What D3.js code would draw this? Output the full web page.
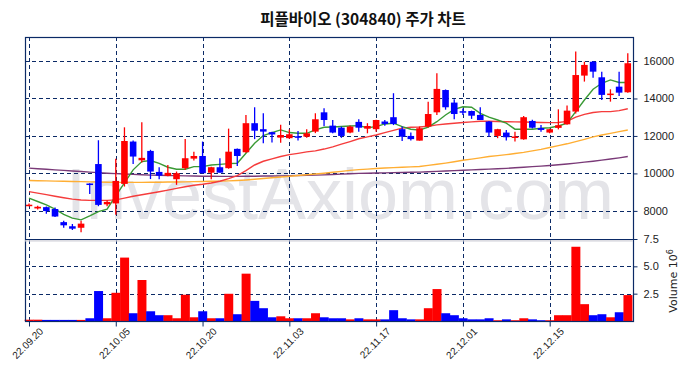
<!DOCTYPE html>
<html>
<head>
<meta charset="utf-8">
<script src="https://cdn.jsdelivr.net/npm/d3@7"></script>
<style>
  body { margin: 0; background: #fff; }
  svg { display: block; font-family: "DejaVu Sans", sans-serif; }
</style>
</head>
<body>
<div id="chart"></div>
<script>
// trading days (yy.mm.dd)
var dates = ["22.09.20","22.09.21","22.09.22","22.09.23","22.09.26","22.09.27","22.09.28","22.09.29","22.09.30","22.10.04",
  "22.10.05","22.10.06","22.10.07","22.10.11","22.10.12","22.10.13","22.10.14","22.10.17","22.10.18","22.10.19",
  "22.10.20","22.10.21","22.10.24","22.10.25","22.10.26","22.10.27","22.10.28","22.10.31","22.11.01","22.11.02",
  "22.11.03","22.11.04","22.11.07","22.11.08","22.11.09","22.11.10","22.11.11","22.11.14","22.11.15","22.11.16",
  "22.11.17","22.11.18","22.11.21","22.11.22","22.11.23","22.11.24","22.11.25","22.11.28","22.11.29","22.11.30",
  "22.12.01","22.12.02","22.12.05","22.12.06","22.12.07","22.12.08","22.12.09","22.12.12","22.12.13","22.12.14",
  "22.12.15","22.12.16","22.12.19","22.12.20","22.12.21","22.12.22","22.12.23","22.12.26","22.12.27","22.12.28"];
var open = [8300,8130,8200,8100,7400,7180,7100,9460,10500,8350,
  8400,9440,11700,10700,11200,10080,9870,9690,10280,10790,
  10930,10040,10330,10280,11310,11130,12680,12360,12200,11910,
  11880,11980,11960,12230,13260,12550,12440,12180,12750,12390,
  12360,12770,13000,12360,12000,11750,12500,13260,14450,13780,
  13320,13330,13120,12770,12000,12180,11940,11820,12800,12420,
  12180,12430,12620,13300,15220,15960,15130,14220,14630,14330];
var high = [8400,8280,8230,8180,7480,7300,7470,9470,11770,8550,
  10780,12460,11750,12730,11260,10330,10450,10100,11830,11150,
  11700,10350,10810,12390,11330,13120,13530,13210,12220,12600,
  12350,12270,12360,13210,13480,12850,12500,12560,12890,12680,
  12870,12850,14280,12500,12180,12500,13830,15340,14480,13960,
  13460,13350,13530,12800,12380,12320,12230,13060,12870,12590,
  12380,13420,13620,16500,15960,16000,15430,14490,15430,16410];
var low = [8250,8080,7850,7680,7100,6980,6860,8900,8250,8250,
  7790,9300,10500,10580,9700,9690,9850,9390,10190,10690,
  10000,9690,10040,10250,10400,11100,11830,11610,11650,11640,
  11850,11750,11900,12150,12530,12150,11900,12150,12230,12140,
  12230,12550,12580,11730,11750,11750,12450,13120,13400,12890,
  13120,12910,12850,11960,11880,11750,11700,11800,12400,12230,
  12150,12350,12600,13200,14900,15110,13920,13830,14130,14300];
var close = [8330,8220,7990,7700,7230,7050,7320,9420,8320,8480,
  9600,11730,10900,10830,10100,9880,10030,10010,10810,10930,
  10010,10330,10040,11160,10930,12680,12280,12230,12080,12050,
  12090,11940,12140,12890,12850,12180,12000,12500,12440,12530,
  12850,12640,12640,11960,11830,12410,13170,14510,13530,13170,
  13280,13080,12850,12180,12360,11930,11970,13000,12440,12320,
  12360,12570,13350,15250,15790,15430,14190,14260,14310,15880];
// volume, millions of shares
var volume = [0.12,0.12,0.1,0.1,0.1,0.1,0.1,0.25,2.74,0.25,
  2.58,5.8,0.71,3.75,0.89,0.53,0.53,0.25,2.4,0.34,
  0.89,0.25,0.25,2.49,0.62,4.33,1.84,1.17,0.34,0.43,
  0.25,0.25,0.25,0.71,0.34,0.25,0.25,0.15,0.25,0.15,
  0.15,0.15,0.99,0.25,0.15,0.15,1.17,2.92,0.71,0.53,
  0.25,0.15,0.15,0.25,0.07,0.15,0.07,0.25,0.15,0.07,
  0.07,0.53,0.53,6.79,1.54,0.53,0.62,0.34,0.8,2.37];
// moving averages
var ma5 = [8680,8500,8320,8090,7820,7610,7520,7730,7960,8090,
  8800,9500,10190,10630,10690,10540,10330,10220,10220,10360,
  10360,10450,10480,10520,10540,11080,11610,12020,12180,12320,
  12180,12140,12140,12320,12460,12480,12500,12530,12550,12440,
  12500,12640,12680,12500,12360,12310,12470,12760,13120,13420,
  13560,13530,13210,13000,12850,12680,12360,12360,12360,12410,
  12440,12530,12680,13300,13920,14490,14810,14990,14850,14850];
var ma20 = [9030,8950,8870,8780,8700,8630,8580,8560,8560,8560,
  8590,8680,8780,8860,8940,9020,9110,9200,9290,9370,
  9420,9490,9580,9720,9880,10150,10450,10650,10780,10900,
  11000,11070,11150,11200,11300,11420,11560,11700,11850,11950,
  12050,12180,12300,12420,12460,12480,12520,12590,12640,12680,
  12720,12750,12780,12780,12770,12760,12750,12740,12730,12720,
  12710,12720,12780,13000,13150,13250,13300,13300,13350,13450];
var ma60 = [9620,9610,9600,9590,9580,9570,9560,9550,9540,9530,
  9520,9520,9520,9520,9530,9530,9540,9540,9550,9560,
  9570,9580,9590,9600,9620,9650,9690,9730,9770,9810,
  9850,9890,9930,9970,10010,10060,10110,10160,10200,10230,
  10260,10290,10310,10330,10350,10370,10430,10490,10550,10620,
  10700,10760,10830,10900,10950,11000,11060,11120,11200,11280,
  11380,11480,11580,11700,11820,11950,12050,12140,12230,12320];
var ma120 = [10280,10250,10220,10190,10160,10130,10100,10070,10040,10010,
  9990,9970,9950,9930,9910,9900,9890,9880,9870,9860,
  9850,9850,9840,9840,9840,9850,9850,9860,9860,9870,
  9880,9890,9900,9910,9920,9940,9960,9980,10000,10010,
  10020,10030,10040,10050,10060,10070,10090,10110,10130,10150,
  10170,10190,10210,10230,10250,10270,10300,10330,10360,10390,
  10420,10460,10500,10550,10600,10650,10710,10770,10830,10900];
var priceTicks = [8000, 10000, 12000, 14000, 16000];
var volTicks = [2.5, 5.0, 7.5];

var W = 690, H = 378;
var L = 25, R = 633, T = 37, MID = 239, B = 321;
var gridColor = "#0b2a66";

var svg = d3.select("#chart").append("svg")
  .attr("width", W).attr("height", H);

var x = d3.scaleLinear().domain([-0.46, 69.6]).range([L, R]);
var y = d3.scaleLinear().domain([6500, 17280]).range([MID, T]);
var yv = d3.scaleLinear().domain([0, 7.5]).range([B, MID]);
var step = x(1) - x(0);

// watermark
svg.append("text")
  .attr("x", 66).attr("y", 219)
  .attr("textLength", 548)
  .attr("lengthAdjust", "spacingAndGlyphs")
  .style("font-family", "'Liberation Sans', Arial, sans-serif")
  .style("font-size", "72px")
  .style("fill", "#e4e4e8")
  .text("InvestAxiom.com");

// grid
var grid = svg.append("g").attr("stroke", gridColor).attr("stroke-width", 1).attr("stroke-dasharray", "4,3");
grid.selectAll(".hp").data(priceTicks).join("line")
  .attr("x1", L).attr("x2", R)
  .attr("y1", function (d) { return Math.round(y(d)) + 0.5; })
  .attr("y2", function (d) { return Math.round(y(d)) + 0.5; });
grid.selectAll(".hv").data(volTicks.slice(0, 2)).join("line")
  .attr("x1", L).attr("x2", R)
  .attr("y1", function (d) { return Math.round(yv(d)) + 0.5; })
  .attr("y2", function (d) { return Math.round(yv(d)) + 0.5; });
var tickIdx = d3.range(0, dates.length, 10);
grid.selectAll(".vx").data(tickIdx).join("line")
  .attr("x1", function (d) { return Math.round(x(d)) + 0.5; })
  .attr("x2", function (d) { return Math.round(x(d)) + 0.5; })
  .attr("y1", T).attr("y2", B);

// moving averages
var maLines = [
  { vals: ma120, color: "#7a3a78" },
  { vals: ma60, color: "#ffae33" },
  { vals: ma20, color: "#f53c3c" },
  { vals: ma5, color: "#3a9a35" }
];
var line = d3.line()
  .x(function (d, i) { return x(i); })
  .y(function (d) { return y(d); });
svg.append("g").selectAll("path").data(maLines).join("path")
  .attr("d", function (d) { return line(d.vals); })
  .attr("fill", "none")
  .attr("stroke", function (d) { return d.color; })
  .attr("stroke-width", 1.4);

// candles
var idx = d3.range(dates.length);
var col = function (i) { return close[i] >= open[i] ? "#ff0000" : "#0000ff"; };
var candles = svg.append("g");
candles.selectAll("line").data(idx).join("line")
  .attr("x1", function (i) { return x(i); })
  .attr("x2", function (i) { return x(i); })
  .attr("y1", function (i) { return y(high[i]); })
  .attr("y2", function (i) { return y(low[i]); })
  .attr("stroke", col).attr("stroke-width", 1.3);
candles.selectAll("rect").data(idx).join("rect")
  .attr("x", function (i) { return x(i) - step * 0.38; })
  .attr("width", step * 0.76)
  .attr("y", function (i) { return y(Math.max(open[i], close[i])); })
  .attr("height", function (i) { return Math.max(1.5, Math.abs(y(open[i]) - y(close[i]))); })
  .attr("fill", col);

// volume bars
svg.append("g").selectAll("rect").data(idx).join("rect")
  .attr("x", function (i) { return x(i) - step / 2; })
  .attr("width", step + 0.3)
  .attr("y", function (i) { return yv(volume[i]); })
  .attr("height", function (i) { return B - yv(volume[i]); })
  .attr("fill", col);

// frame
var frame = svg.append("g").attr("stroke", gridColor).attr("fill", "none");
frame.append("rect").attr("x", L + 0.5).attr("y", T + 0.5).attr("width", R - L).attr("height", B - T).attr("stroke-width", 1.2);
frame.append("line").attr("x1", L).attr("x2", R).attr("y1", MID + 0.5).attr("y2", MID + 0.5).attr("stroke-width", 1.2);
svg.append("line").attr("x1", L).attr("x2", R).attr("y1", MID + 1.8).attr("y2", MID + 1.8)
  .attr("stroke", "#d0d0d8").attr("stroke-width", 1.2);

// right axes
var axP = svg.append("g").attr("transform", "translate(" + (R + 0.5) + ",0)")
  .call(d3.axisRight(y).tickValues(priceTicks).tickSize(4).tickPadding(6).tickFormat(d3.format("d")));
var axV = svg.append("g").attr("transform", "translate(" + (R + 0.5) + ",0)")
  .call(d3.axisRight(yv).tickValues(volTicks).tickSize(4).tickPadding(6).tickFormat(d3.format(".1f")));
[axP, axV].forEach(function (a) {
  a.select(".domain").remove();
  a.selectAll("line").attr("stroke", gridColor);
  a.selectAll("text").style("font-size", "11px").attr("fill", "#222");
});

// bottom axis
var axX = svg.append("g").attr("transform", "translate(0," + (B + 0.5) + ")")
  .call(d3.axisBottom(x).tickValues(tickIdx).tickSize(5).tickFormat(function (d) { return dates[d]; }));
axX.select(".domain").remove();
axX.selectAll("line").attr("stroke", gridColor);
axX.selectAll("text")
  .style("font-size", "10px").attr("fill", "#222")
  .style("text-anchor", "end")
  .attr("dy", "0.35em")
  .attr("transform", "translate(12,8) rotate(-45)")
  .attr("y", 0).attr("x", 0);

// volume label
var vl = svg.append("text")
  .attr("transform", "translate(677," + 281 + ") rotate(-90)")
  .style("text-anchor", "middle")
  .style("font-size", "11px")
  .attr("fill", "#222");
vl.append("tspan").text("Volume  10");
vl.append("tspan").attr("dy", "-0.5em").style("font-size", "8px").text("6");

// title
svg.append("text")
  .attr("x", 363).attr("y", 25)
  .style("text-anchor", "middle")
  .style("font-family", "'Noto Sans CJK KR', sans-serif")
  .style("font-size", "15.5px")
  .style("font-weight", "bold")
  .attr("fill", "#111")
  .text("피플바이오 (304840) 주가 차트");
</script>
</body>
</html>
